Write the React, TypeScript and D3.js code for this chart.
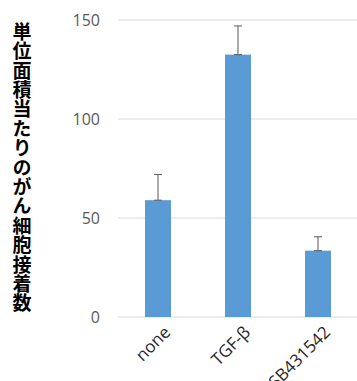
import React from "react";
import * as d3 from "d3";

const categories = ["none", "TGF-β", "SB431542"];
const values = [59, 132.5, 33.5];
const errors = [13, 14.5, 7];
const yTicks = [0, 50, 100, 150];
const yTitle = "単位面積当たりのがん細胞接着数";

const W = 357;
const H = 381;
const margin = { top: 20, right: 0, bottom: 64, left: 118 };

const App = () => {
  const x = d3
    .scaleBand()
    .domain(categories)
    .range([margin.left, W - margin.right + 1])
    .paddingInner(0.675)
    .paddingOuter(0.3375);

  const y = d3
    .scaleLinear()
    .domain([0, 150])
    .range([H - margin.bottom, margin.top]);

  return (
    <svg
      width={W}
      height={H}
      style={{ position: "absolute", left: 0, top: 0, background: "#fff" }}
    >
      {yTicks.map((t) => (
        <g key={t}>
          <line
            x1={margin.left}
            x2={W}
            y1={y(t)}
            y2={y(t)}
            stroke="#d9d9d9"
            strokeWidth={1}
          />
          <text
            x={100}
            y={y(t)}
            dy="0.35em"
            textAnchor="end"
            fontFamily="'Open Sans', 'DejaVu Sans', sans-serif"
            fontSize={16}
            fill="#595959"
          >
            {t}
          </text>
        </g>
      ))}

      {categories.map((c, i) => {
        const bx = x(c)!;
        const cx = bx + x.bandwidth() / 2;
        const top = y(values[i]);
        const etop = y(values[i] + errors[i]);
        return (
          <g key={c}>
            <rect
              x={bx}
              y={top}
              width={x.bandwidth()}
              height={y(0) - top}
              fill="#5b9bd5"
            />
            <line x1={cx} x2={cx} y1={top} y2={etop} stroke="#595959" strokeWidth={1} />
            <line x1={cx - 4} x2={cx + 4} y1={etop} y2={etop} stroke="#595959" strokeWidth={1} />
            <line x1={cx - 4} x2={cx + 4} y1={top} y2={top} stroke="#595959" strokeWidth={1} />
            <text
              transform={`translate(${cx + 5},${y(0) + 8}) rotate(-45)`}
              textAnchor="end"
              dy="0.7em"
              fontFamily="'Open Sans', 'DejaVu Sans', sans-serif"
              fontSize={17}
              fill="#262626"
            >
              {c}
            </text>
          </g>
        );
      })}

      <text
        x={22}
        y={22}
        writingMode="vertical-rl"
        letterSpacing={0.4}
        fontFamily="'Noto Sans CJK JP', sans-serif"
        fontWeight="bold"
        fontSize={19}
        fill="#000"
      >
        {yTitle}
      </text>
    </svg>
  );
};

export default App;
